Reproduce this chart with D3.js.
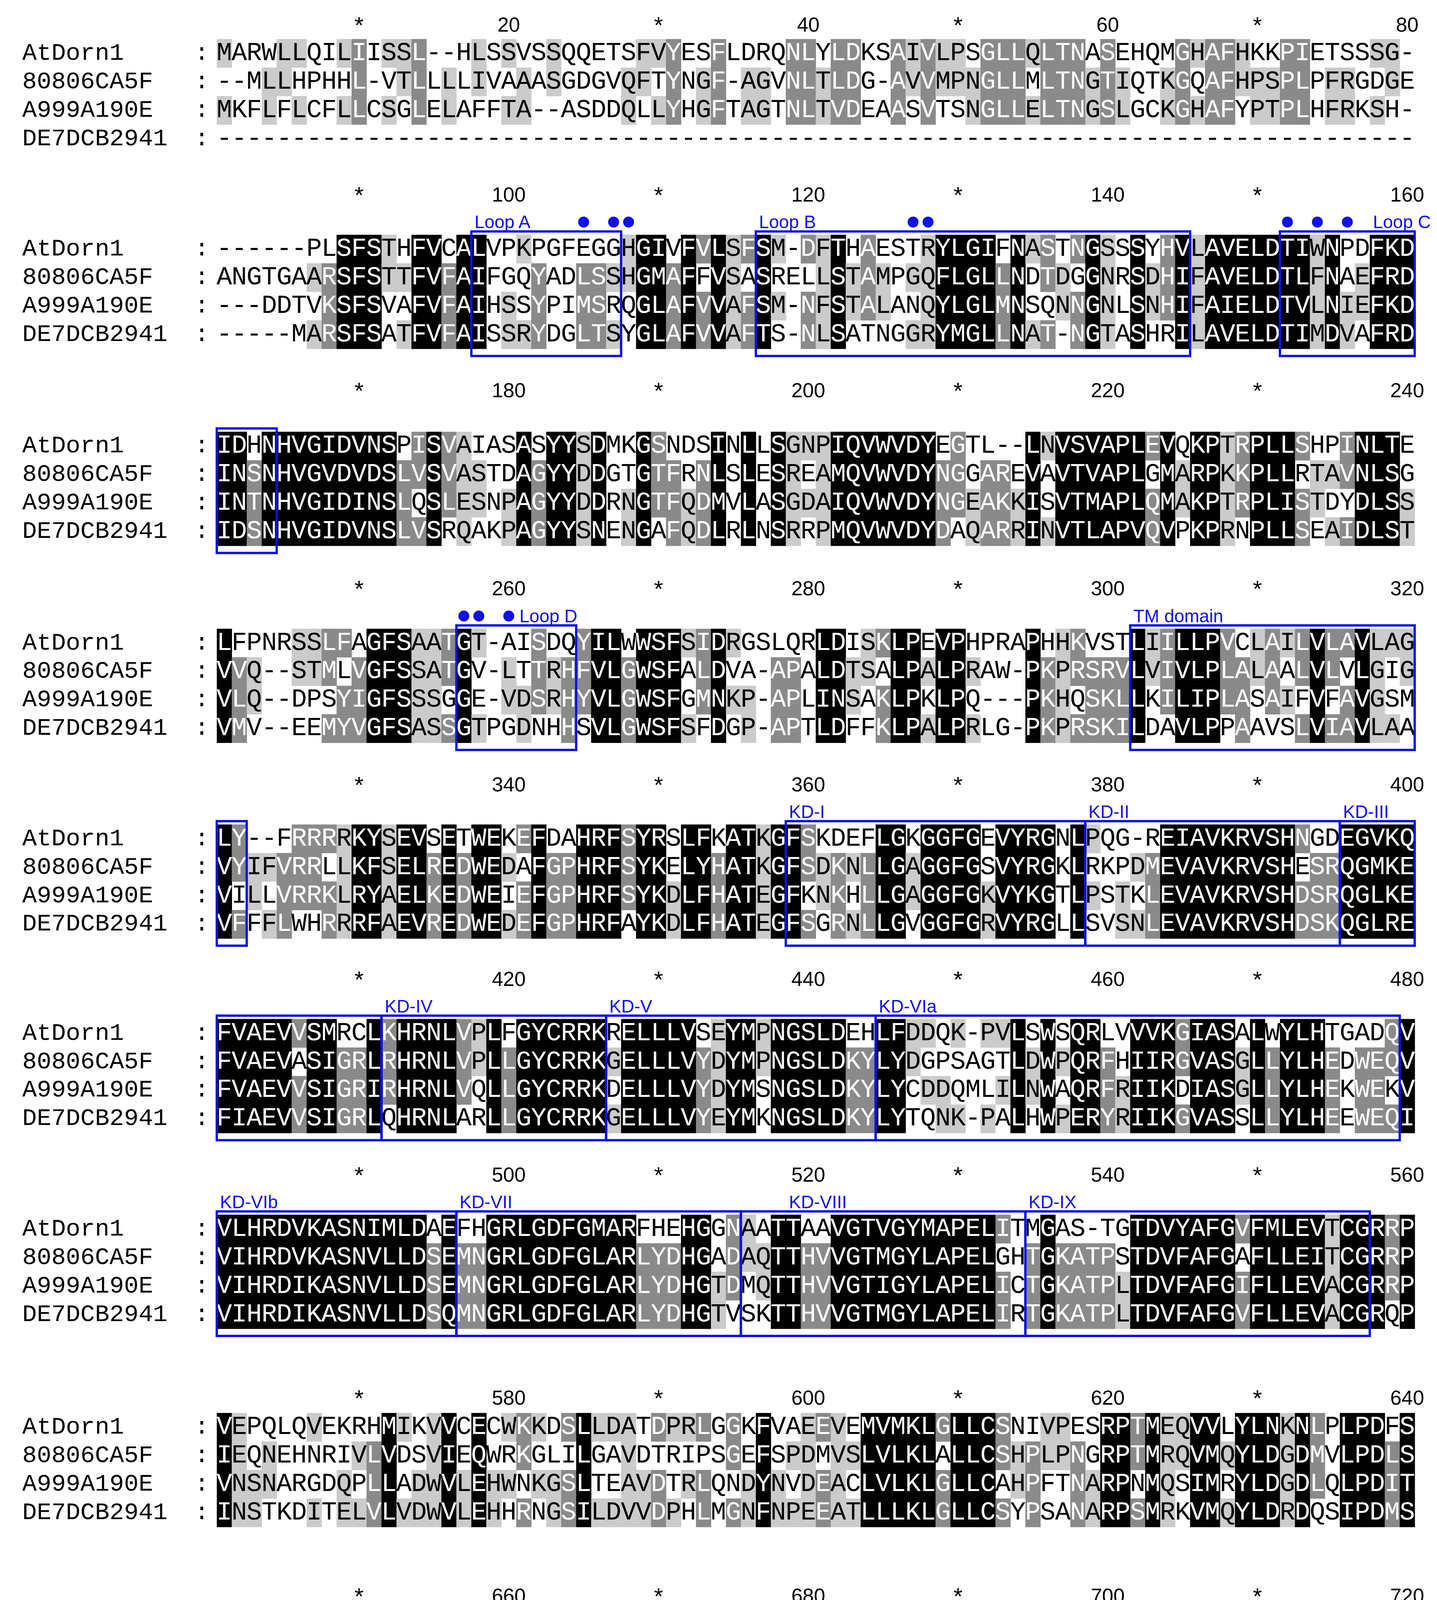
<!DOCTYPE html>
<html><head><meta charset="utf-8">
<script src="https://cdn.jsdelivr.net/npm/d3@7"></script>
<style>body{margin:0;background:#fff}</style>
</head><body>
<script>
const names = ["AtDorn1","80806CA5F","A999A190E","DE7DCB2941"];
const blockLengths = [80,80,80,80,80,80,80,80,80,67];
const seqAtDorn1 = [
"MARWLLQILIISSL--HLSSVSSQQETSFVYESFLDRQNLYLDKSAIVLPSGLLQLTNASEHQMGHAFHKKPIETSSSG-",
"------PLSFSTHFVCALVPKPGFEGGHGIVFVLSFSM-DFTHAESTRYLGIFNASTNGSSSYHVLAVELDTIWNPDFKD",
"IDHNHVGIDVNSPISVAIASASYYSDMKGSNDSINLLSGNPIQVWVDYEGTL--LNVSVAPLEVQKPTRPLLSHPINLTE",
"LFPNRSSLFAGFSAATGT-AISDQYILWWSFSIDRGSLQRLDISKLPEVPHPRAPHHKVSTLIILLPVCLAILVLAVLAG",
"LY--FRRRRKYSEVSETWEKEFDAHRFSYRSLFKATKGFSKDEFLGKGGFGEVYRGNLPQG-REIAVKRVSHNGDEGVKQ",
"FVAEVVSMRCLKHRNLVPLFGYCRRKRELLLVSEYMPNGSLDEHLFDDQK-PVLSWSQRLVVVKGIASALWYLHTGADQV",
"VLHRDVKASNIMLDAEFHGRLGDFGMARFHEHGGNAATTAAVGTVGYMAPELITMGAS-TGTDVYAFGVFMLEVTCGRRP",
"VEPQLQVEKRHMIKVVCECWKKDSLLDATDPRLGGKFVAEEVEMVMKLGLLCSNIVPESRPTMEQVVLYLNKNLPLPDFS",
"PYTLGIGTFAPVLVDASSLVVSSASWSLSGPSMSSSSPNHSPYAWQSTDQPWGQTIDTKNSLHIVAEPEKPSPAVKMVTL",
"PAEDPQSNHSSISSISSQRVQPVKREKRRLHQILVAFPWINKQYFKLGLPKHIVHVSLFFFLQLARL"];
const seq80806CA5F = [
"--MLLHPHHL-VTLLLLIVAAASGDGVQFTYNGF-AGVNLTLDG-AVVMPNGLLMLTNGTIQTKGQAFHPSPLPFRGDGE",
"ANGTGAARSFSTTFVFAIFGQYADLSSHGMAFFVSASRELLSTAMPGQFLGLLNDTDGGNRSDHIFAVELDTLFNAEFRD",
"INSNHVGVDVDSLVSVASTDAGYYDDGTGTFRNLSLESREAMQVWVDYNGGAREVAVTVAPLGMARPKKPLLRTAVNLSG",
"VVQ--STMLVGFSSATGV-LTTRHFVLGWSFALDVA-APALDTSALPALPRAW-PKPRSRVLVIVLPLALAALVLVLGIG",
"VYIFVRRLLKFSELREDWEDAFGPHRFSYKELYHATKGFSDKNLLGAGGFGSVYRGKLRKPDMEVAVKRVSHESRQGMKE",
"FVAEVASIGRLRHRNLVPLLGYCRRKGELLLVYDYMPNGSLDKYLYDGPSAGTLDWPQRFHIIRGVASGLLYLHEDWEQV",
"VIHRDVKASNVLLDSEMNGRLGDFGLARLYDHGADAQTTHVVGTMGYLAPELGHTGKATPSTDVFAFGAFLLEITCGRRP",
"IEQNEHNRIVLVDSVIEQWRKGLILGAVDTRIPSGEFSPDMVSLVLKLALLCSHPLPNGRPTMRQVMQYLDGDMVLPDLS",
"SAYLSTTMLERMYDGDFNQK--MLPYASS-TSMGAVSDLS-----------GG---------R-----------------",
"-------------------------------------------------------------------"];
const seqA999A190E = [
"MKFLFLCFLLCSGLELAFFTA--ASDDQLLYHGFTAGTNLTVDEAASVTSNGLLELTNGSLGCKGHAFYPTPLHFRKSH-",
"---DDTVKSFSVAFVFAIHSSYPIMSRQGLAFVVAFSM-NFSTALANQYLGLMNSQNNGNLSNHIFAIELDTVLNIEFKD",
"INTNHVGIDINSLQSLESNPAGYYDDRNGTFQDMVLASGDAIQVWVDYNGEAKKISVTMAPLQMAKPTRPLISTDYDLSS",
"VLQ--DPSYIGFSSSGGE-VDSRHYVLGWSFGMNKP-APLINSAKLPKLPQ---PKHQSKLLKILIPLASAIFVFAVGSM",
"VILLVRRKLRYAELKEDWEIEFGPHRFSYKDLFHATEGFKNKHLLGAGGFGKVYKGTLPSTKLEVAVKRVSHDSRQGLKE",
"FVAEVVSIGRIRHRNLVQLLGYCRRKDELLLVYDYMSNGSLDKYLYCDDQMLILNWAQRFRIIKDIASGLLYLHEKWEKV",
"VIHRDIKASNVLLDSEMNGRLGDFGLARLYDHGTDMQTTHVVGTIGYLAPELICTGKATPLTDVFAFGIFLLEVACGRRP",
"VNSNARGDQPLLADWVLEHWNKGSLTEAVDTRLQNDYNVDEACLVLKLGLLCAHPFTNARPNMQSIMRYLDGDLQLPDIT",
"DTDMSFSLLSQMQGQGFDRY--ALSYLSVNTSIGTISGLS-----------GG---------R-----------------",
"-------------------------------------------------------------------"];
const seqDE7DCB2941 = [
"--------------------------------------------------------------------------------",
"-----MARSFSATFVFAISSRYDGLTSYGLAFVVAFTS-NLSATNGGRYMGLLNAT-NGTASHRILAVELDTIMDVAFRD",
"IDSNHVGIDVNSLVSRQAKPAGYYSNENGAFQDLRLNSRRPMQVWVDYDAQARRINVTLAPVQVPKPRNPLLSEAIDLST",
"VMV--EEMYVGFSASSGTPGDNHHSVLGWSFSFDGP-APTLDFFKLPALPRLG-PKPRSKILDAVLPPAAVSLVIAVLAA",
"VFFFLWHRRRFAEVREDWEDEFGPHRFAYKDLFHATEGFSGRNLLGVGGFGRVYRGLLSVSNLEVAVKRVSHDSKQGLRE",
"FIAEVVSIGRLQHRNLARLLGYCRRKGELLLVYEYMKNGSLDKYLYTQNK-PALHWPERYRIIKGVASSLLYLHEEWEQI",
"VIHRDIKASNVLLDSQMNGRLGDFGLARLYDHGTVSKTTHVVGTMGYLAPELIRTGKATPLTDVFAFGVFLLEVACGRQP",
"INSTKDITELVLVDWVLEHHRNGSILDVVDPHLMGNFNPEEATLLLKLGLLCSYPSANARPSMRKVMQYLDRDQSIPDMS",
"A-YMSYNRIAMMQNEGFDSY--IMSYPSSNMNICVVSGES-----------SV---------SIIEEGR-----------",
"-------------------------------------------------------------------"];
const seqs = [seqAtDorn1, seq80806CA5F, seqA999A190E, seqDE7DCB2941];
// annotation boxes: alignment positions
const boxLabels = ["Loop A","Loop B","Loop C","Loop D","TM domain","KD-I","KD-II","KD-III","KD-IV","KD-V","KD-VIa","KD-VIb","KD-VII","KD-VIII","KD-IX"];
const boxStart  = [98,117,152,257,302,359,379,396,412,427,445,481,497,516,535];
const boxEnd    = [107,145,164,264,322,378,395,411,426,444,479,496,515,534,557];
const labelPos  = [98,117,158,261,302,359,379,396,412,427,445,481,497,519,535];
const dotPositions = [105,107,108,127,128,152,154,156,257,258,260];

const W=3679,H=4967;
const svg=d3.select("body").append("svg").attr("width",W).attr("height",H).style("background","#fff");
const S=3679/1160;
const blockRow1Y=[43,201,360,519,677,834,992,1152,1312,1472].map(v=>v*S);
const blockTickY=[20,157,315,475,633,790,948,1128,1288,1448].map(v=>v*S);
const rowStep=23*S;
const x=d3.scaleBand().domain(d3.range(1,81)).range([175*S,1142*S]).paddingInner(0);
const cw=x.bandwidth();
const groups={D:"DN",N:"DN",E:"EQ",Q:"EQ",S:"ST",T:"ST",K:"KR",R:"KR",F:"FYW",Y:"FYW",W:"FYW",L:"LIVM",I:"LIVM",V:"LIVM",M:"LIVM"};
const grp=c=>groups[c]||c;
const fill={4:"#000000",3:"#8a8a8a",2:"#cbcbcb"};
const tcol={4:"#fff",3:"#fff",2:"#000"};
const mono="'Liberation Mono','DejaVu Sans Mono',monospace";

blockLengths.forEach((len,b)=>{
  const g=svg.append("g");
  const y=d3.scaleBand().domain(d3.range(4)).range([blockRow1Y[b]-rowStep/2,blockRow1Y[b]+rowStep*3.5]);
  // ticks
  d3.range(10,len+1,10).forEach(c=>{
    const pos=b*80+c, isNum=(c%20===0);
    g.append("text").attr("x",x(c)+cw/2).attr("y",blockTickY[b]+(isNum?0:8))
     .attr("text-anchor","middle").attr("dominant-baseline","central")
     .attr("font-family",isNum?"'Liberation Sans',Arial,sans-serif":mono)
     .attr("font-size",isNum?52:60).text(isNum?pos:"*");
  });
  const rows=seqs.map(s=>{let r=s[b]; if(r.length<len) r=r.padEnd(len,"-"); return r.slice(0,len);});
  names.forEach((n,i)=>{
    g.append("text").attr("x",57).attr("y",y(i)+y.bandwidth()/2).attr("dominant-baseline","central")
     .attr("font-family",mono).attr("font-size",62).text(n);
    g.append("text").attr("x",498).attr("y",y(i)+y.bandwidth()/2).attr("dominant-baseline","central")
     .attr("font-family",mono).attr("font-size",62).text(":");
  });
  for(let c=1;c<=len;c++){
    const col=rows.map(r=>r[c-1]);
    const cnt={};col.forEach(ch=>{if(ch!=="-"){const k=grp(ch);cnt[k]=(cnt[k]||0)+1;}});
    const best=d3.max(Object.values(cnt))||0;
    col.forEach((ch,i)=>{
      let lev=0;
      if(ch!=="-"&&best>=2&&cnt[grp(ch)]===best) lev=best;
      if(ch!=="-"&&cnt[grp(ch)]>=2&&cnt[grp(ch)]<best) lev=0;
      if(lev){g.append("rect").attr("x",x(c)).attr("y",y(i)).attr("width",cw+0.6).attr("height",y.bandwidth()+0.6).attr("fill",fill[lev]);}
      g.append("text").attr("x",x(c)+cw/2).attr("y",y(i)+y.bandwidth()/2).attr("text-anchor","middle")
       .attr("dominant-baseline","central").attr("font-family",mono).attr("font-size",66)
       .attr("fill",lev?tcol[lev]:"#000").text(ch);
    });
  }
  // boxes
  const bs=b*80+1, be=b*80+len;
  const top=blockRow1Y[b]-45, bot=blockRow1Y[b]+3*rowStep+55;
  boxLabels.forEach((lab,k)=>{
    const s=Math.max(boxStart[k],bs), e=Math.min(boxEnd[k],be);
    if(s>e) return;
    g.append("rect").attr("x",x(s-b*80)).attr("y",top).attr("width",x(e-b*80)+cw-x(s-b*80)).attr("height",bot-top)
     .attr("fill","none").attr("stroke","#1010e8").attr("stroke-width",6);
    if(labelPos[k]>=bs&&labelPos[k]<=be){
      g.append("text").attr("x",x(labelPos[k]-b*80)+8).attr("y",top-8)
       .attr("font-family","'Liberation Sans',Arial,sans-serif").attr("font-size",46).attr("fill","#1010e8").text(lab);
    }
  });
  dotPositions.filter(p=>p>=bs&&p<=be).forEach(p=>{
    g.append("circle").attr("cx",x(p-b*80)+cw/2).attr("cy",top-24).attr("r",14).attr("fill","#1010e8");
  });
});
</script>
</body></html>
